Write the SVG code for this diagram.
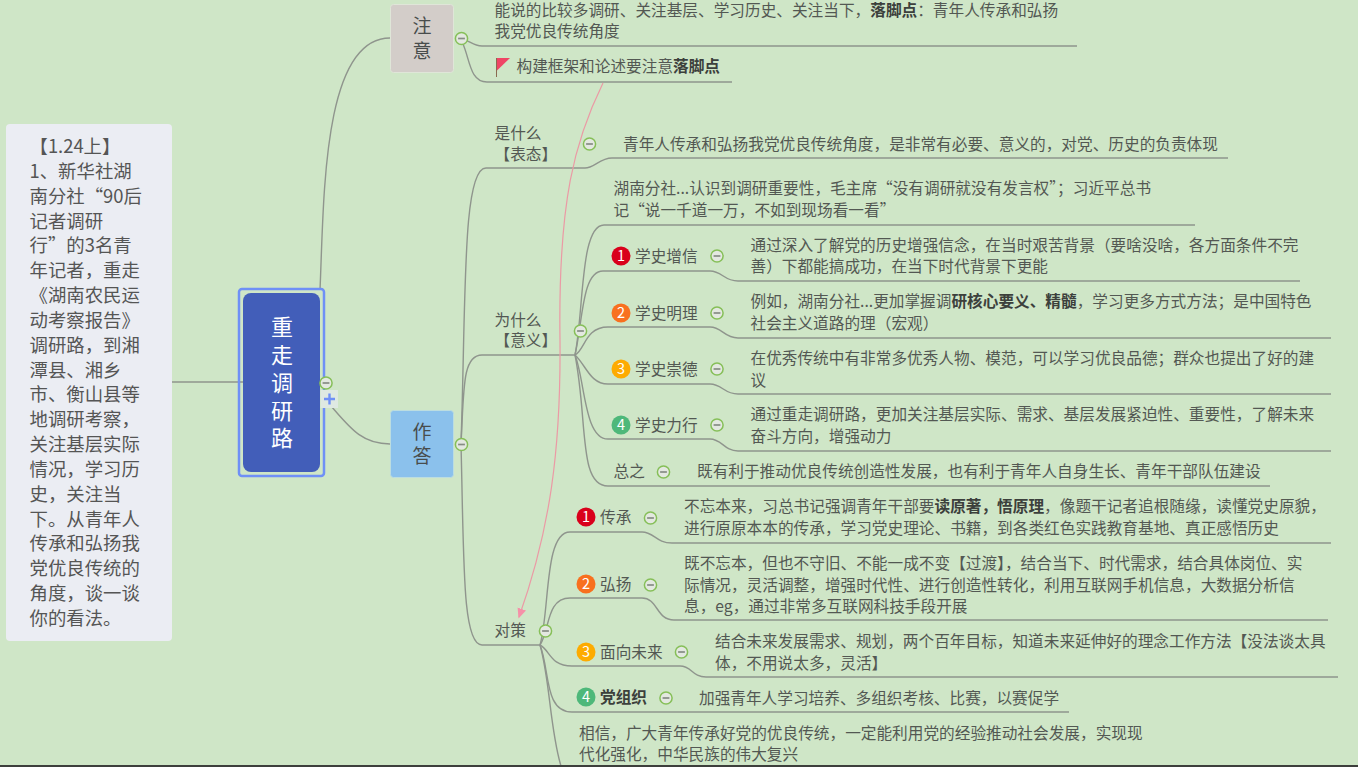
<svg xmlns="http://www.w3.org/2000/svg" width="1358" height="767" viewBox="0 0 1358 767">
<defs>
<marker id="arr" markerWidth="11" markerHeight="10" refX="8.500" refY="4.500" orient="auto" markerUnits="userSpaceOnUse"><path d="M0 0L10 4.500L0 9Z" fill="#f590a8"/></marker>
<g id="cc"><circle r="6.100" fill="#e3e8e0" stroke="#86bf58" stroke-width="1.500"/><path d="M-3.400 0H3.400" stroke="#868c84" stroke-width="1.700"/></g>
</defs>
<style>
text{font-family:"Noto Sans CJK SC","Microsoft YaHei","Liberation Sans",sans-serif;font-size:15.67px;fill:#535853}
.b{font-weight:700;fill:#3c403c}
.n{font-size:18.4px;fill:#555}
.t{font-size:19px;fill:#484c4c;text-anchor:middle}
.r{font-size:22px;fill:#fff;text-anchor:middle}
.w{font-size:14.500px;fill:#fff;text-anchor:middle}
.l{fill:none;stroke:#8f958d;stroke-width:1.400}
</style>
<rect width="1358" height="767" fill="#cfe6c7"/>
<g id="connectors">
<path class="l" d="M172 382H243"/>
<path class="l" d="M320 290C324 200 322 38 390 38"/>
<path class="l" d="M331 406C350 428 362 444 390 444"/>
<path class="l" d="M461 39C470 40 472 46 482 46H1077"/>
<path class="l" d="M463 44C470 60 470 82 487 82H732"/>
<path class="l" d="M461 444C466 300 462 168 486 168H585C594 168 600 158 612 158H1228"/>
<path class="l" d="M461 444C464 390 462 355 482 355H575"/>
<path class="l" d="M461 444C464 560 462 645 482 645H540"/>
<path class="l" d="M575 355C584 310 580 225 604 225H1195"/>
<path class="l" d="M575 355C583 320 582 271 603 271H710C722 271 724 281 738 281H1300"/>
<path class="l" d="M575 355C585 350 585 327 608 327H710C722 327 724 338 738 338H1331"/>
<path class="l" d="M575 355C586 365 590 384 608 384H710C722 384 724 394 738 394H1331"/>
<path class="l" d="M575 355C585 380 584 439 608 439H710C722 439 724 451 738 451H1331"/>
<path class="l" d="M575 355C588 420 578 486 608 486H1270"/>
<path class="l" d="M540 645C550 610 544 532 570 532H642C654 532 656 543 672 543H1331"/>
<path class="l" d="M540 645C550 630 546 598 570 598H642C658 598 656 620 674 620H1328"/>
<path class="l" d="M540 645C550 650 550 666 572 666H680C692 666 692 677 706 677H1338"/>
<path class="l" d="M540 645C550 670 544 712 572 712H1069"/>
<path class="l" d="M540 645C550 680 550 730 561 766"/>
<path d="M603 83C575 140 558 200 560 340C561 450 550 530 519 617" fill="none" stroke="#eb9aa5" stroke-width="1.200" marker-end="url(#arr)"/>
</g>
<g id="note"><rect x="6" y="124" width="166" height="517" rx="4" fill="#ebedf3"/>
<text class="n" x="29.500" y="153">【1.24上】</text><text class="n" x="29.500" y="178">1、新华社湖</text><text class="n" x="29.500" y="203">南分社“90后</text><text class="n" x="29.500" y="228">记者调研</text><text class="n" x="29.500" y="252">行”的3名青</text><text class="n" x="29.500" y="277">年记者，重走</text><text class="n" x="29.500" y="302">《湖南农民运</text><text class="n" x="29.500" y="327">动考察报告》</text><text class="n" x="29.500" y="352">调研路，到湘</text><text class="n" x="29.500" y="377">潭县、湘乡</text><text class="n" x="29.500" y="401">市、衡山县等</text><text class="n" x="29.500" y="426">地调研考察，</text><text class="n" x="29.500" y="451">关注基层实际</text><text class="n" x="29.500" y="476">情况，学习历</text><text class="n" x="29.500" y="501">史，关注当</text><text class="n" x="29.500" y="526">下。从青年人</text><text class="n" x="29.500" y="550">传承和弘扬我</text><text class="n" x="29.500" y="575">党优良传统的</text><text class="n" x="29.500" y="600">角度，谈一谈</text><text class="n" x="29.500" y="625">你的看法。</text></g>
<g id="root"><rect x="239" y="289" width="85" height="187" rx="3" fill="none" stroke="#6f90f6" stroke-width="2.500"/><rect x="243" y="293" width="77" height="179" rx="8" fill="#425eb9"/>
<text class="r"><tspan x="282" y="335">重</tspan><tspan x="282" y="363">走</tspan><tspan x="282" y="391">调</tspan><tspan x="282" y="419">研</tspan><tspan x="282" y="446">路</tspan></text>
<use href="#cc" x="326" y="383"/><rect x="320.500" y="390" width="17.500" height="18" fill="#dfe9e2"/><path d="M324 399H335M329.500 393.500V404.500" stroke="#6f90f6" stroke-width="2.400"/></g>
<g id="zhuyi"><rect x="390.500" y="4.500" width="63" height="68" rx="3" fill="#d3cdc9" stroke="#dfe6d8"/><text class="t" x="422" y="33">注</text><text class="t" x="422" y="58">意</text><use href="#cc" x="461.500" y="38.500"/></g>
<g id="zuoda"><rect x="390.500" y="410.500" width="63" height="67" rx="3" fill="#8bc1ec" stroke="#bcdde0"/><text class="t" x="422" y="439">作</text><text class="t" x="422" y="463">答</text><use href="#cc" x="461.500" y="444.500"/></g>
<g id="z1"><text x="494.500" y="15.500">能说的比较多调研、关注基层、学习历史、关注当下，<tspan class="b">落脚点</tspan>：青年人传承和弘扬</text><text x="494.500" y="37">我党优良传统角度</text></g>
<g id="z2"><path d="M496.500 58V77" stroke="#8a6a50" stroke-width="1"/><path d="M497 58H510L497 70.500Z" fill="#ef4565"/><text x="516.500" y="72">构建框架和论述要注意<tspan class="b">落脚点</tspan></text></g>
<g id="shi"><text x="494.500" y="139">是什么</text><text x="494.500" y="160">【表态】</text><use href="#cc" x="589.500" y="144"/><text x="623" y="150">青年人传承和弘扬我党优良传统角度，是非常有必要、意义的，对党、历史的负责体现</text></g>
<g id="wei"><text x="494.500" y="326">为什么</text><text x="494.500" y="346">【意义】</text><use href="#cc" x="580.500" y="331"/></g>
<g id="wei0"><text x="613.500" y="194">湖南分社...认识到调研重要性，毛主席“没有调研就没有发言权”；习近平总书</text><text x="613.500" y="216">记“说一千道一万，不如到现场看一看”</text></g>
<g id="w1"><circle cx="621" cy="256" r="9.500" fill="#d9001b"/><text class="w" x="621" y="261">1</text><text x="635" y="262">学史增信</text><use href="#cc" x="717" y="256"/><text x="750.500" y="251">通过深入了解党的历史增强信念，在当时艰苦背景（要啥没啥，各方面条件不完</text><text x="750.500" y="272">善）下都能搞成功，在当下时代背景下更能</text></g>
<g id="w2"><circle cx="621" cy="313" r="9.500" fill="#f8701f"/><text class="w" x="621" y="318">2</text><text x="635" y="319">学史明理</text><use href="#cc" x="717" y="313"/><text x="750.500" y="307">例如，湖南分社...更加掌握调<tspan class="b">研核心要义、精髓</tspan>，学习更多方式方法；是中国特色</text><text x="750.500" y="329">社会主义道路的理（宏观）</text></g>
<g id="w3"><circle cx="621" cy="369" r="9.500" fill="#fdab00"/><text class="w" x="621" y="374">3</text><text x="635" y="375">学史崇德</text><use href="#cc" x="717" y="369"/><text x="750.500" y="364">在优秀传统中有非常多优秀人物、模范，可以学习优良品德；群众也提出了好的建</text><text x="750.500" y="386">议</text></g>
<g id="w4"><circle cx="621" cy="425" r="9.500" fill="#4eb87a"/><text class="w" x="621" y="430">4</text><text x="635" y="431">学史力行</text><use href="#cc" x="717" y="425"/><text x="750.500" y="420">通过重走调研路，更加关注基层实际、需求、基层发展紧迫性、重要性，了解未来</text><text x="750.500" y="442">奋斗方向，增强动力</text></g>
<g id="w5"><text x="613.500" y="477">总之</text><use href="#cc" x="663.500" y="472"/><text x="697" y="477">既有利于推动优良传统创造性发展，也有利于青年人自身生长、青年干部队伍建设</text></g>
<g id="dui"><text x="494.500" y="636">对策</text><use href="#cc" x="545.500" y="631"/></g>
<g id="d1"><circle cx="586" cy="517" r="9.500" fill="#d9001b"/><text class="w" x="586" y="522">1</text><text x="600" y="523">传承</text><use href="#cc" x="650.500" y="518"/><text x="684" y="512">不忘本来，习总书记强调青年干部要<tspan class="b">读原著，悟原理</tspan>，像题干记者追根随缘，读懂党史原貌，</text><text x="684" y="534">进行原原本本的传承，学习党史理论、书籍，到各类红色实践教育基地、真正感悟历史</text></g>
<g id="d2"><circle cx="586" cy="584" r="9.500" fill="#f8701f"/><text class="w" x="586" y="589">2</text><text x="600" y="590">弘扬</text><use href="#cc" x="650.500" y="585"/><text x="684" y="569">既不忘本，但也不守旧、不能一成不变【过渡】，结合当下、时代需求，结合具体岗位、实</text><text x="684" y="591">际情况，灵活调整，增强时代性、进行创造性转化，利用互联网手机信息，大数据分析信</text><text x="684" y="612">息，eg，通过非常多互联网科技手段开展</text></g>
<g id="d3"><circle cx="586" cy="652" r="9.500" fill="#fdab00"/><text class="w" x="586" y="657">3</text><text x="600" y="658">面向未来</text><use href="#cc" x="681.500" y="652"/><text x="715" y="647">结合未来发展需求、规划，两个百年目标，知道未来延伸好的理念工作方法【没法谈太具</text><text x="715" y="669">体，不用说太多，灵活】</text></g>
<g id="d4"><circle cx="586" cy="697" r="9.500" fill="#4eb87a"/><text class="w" x="586" y="702">4</text><text x="600" y="703" class="b">党组织</text><use href="#cc" x="666" y="698"/><text x="699" y="704">加强青年人学习培养、多组织考核、比赛，以赛促学</text></g>
<g id="d5"><text x="579" y="739">相信，广大青年传承好党的优良传统，一定能利用党的经验推动社会发展，实现现</text><text x="579" y="760">代化强化，中华民族的伟大复兴</text></g>
<rect id="edge" y="765" width="1358" height="2" fill="#3d3f3c"/>
</svg>
